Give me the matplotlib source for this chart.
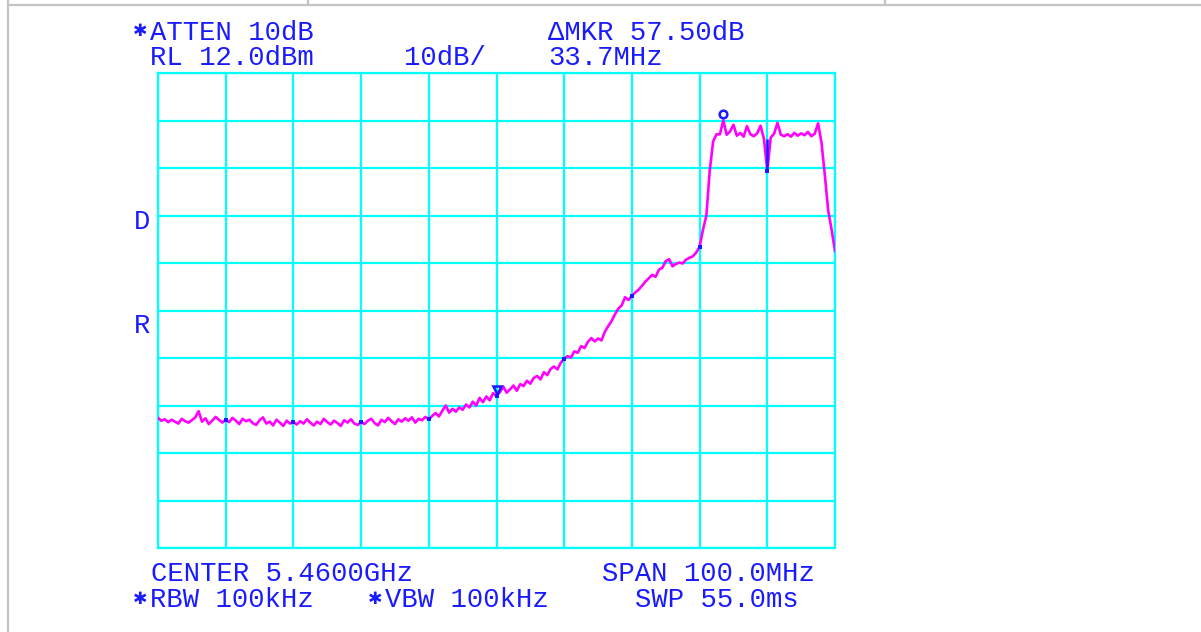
#!/usr/bin/env python
"""Spectrum analyzer screen dump: 5.46 GHz channel, 100 MHz span."""
import matplotlib
matplotlib.use("Agg")
import matplotlib.pyplot as plt
import numpy as np
from matplotlib.lines import Line2D
from matplotlib.transforms import offset_copy

# Instrument settings (MHz / dBm)
CENTER_MHZ = 5460.0
SPAN_MHZ = 100.0
REF_LEVEL = 12.0
DB_PER_DIV = 10.0

# Trace at 0.5 MHz steps from 5410 MHz
freq_mhz = np.linspace(CENTER_MHZ - SPAN_MHZ / 2, CENTER_MHZ + SPAN_MHZ / 2, 201)
level_dbm = [
    -60.6, -61.2, -60.9, -61.5, -61.0, -61.4, -61.8, -60.8, -61.3, -61.6,
    -61.1, -60.5, -59.2, -61.4, -60.7, -61.9, -61.2, -60.4, -61.0, -61.6,
    -61.0, -61.5, -60.6, -61.2, -61.9, -60.8, -61.3, -61.0, -61.7, -62.1,
    -61.1, -60.5, -61.8, -61.4, -62.2, -61.0, -61.6, -62.3, -61.2, -61.8,
    -61.5, -62.0, -61.3, -61.8, -60.9, -61.6, -62.2, -61.4, -61.9, -60.8,
    -61.5, -62.0, -61.2, -61.7, -62.3, -61.1, -61.6, -60.9, -61.8, -62.1,
    -61.5, -61.9, -61.2, -60.8, -61.7, -62.2, -61.0, -61.5, -60.6, -61.3,
    -61.9, -60.9, -61.4, -60.7, -61.2, -60.5, -61.6, -60.8, -61.1, -60.4,
    -60.9, -60.2, -59.6, -60.3, -59.1, -58.0, -59.5, -58.7, -59.3, -58.4,
    -58.9, -57.8, -58.4, -57.2, -58.0, -56.4, -57.3, -56.1, -56.9, -55.4,
    -56.0, -55.2, -54.0, -55.3, -54.6, -53.8, -54.9, -53.5, -53.9, -52.8,
    -53.4, -52.2, -51.8, -52.5, -51.0, -51.6, -50.3, -49.8, -50.4, -49.0,
    -48.2, -47.6, -47.9, -46.6, -46.9, -45.5, -45.9, -44.6, -43.8, -44.5,
    -43.9, -44.3, -42.5, -41.3, -40.2, -38.8, -37.6, -36.9, -35.2, -35.8,
    -34.9, -34.2, -33.6, -32.8, -31.9, -31.2, -30.5, -30.9, -29.4, -29.0,
    -27.6, -27.2, -28.7, -28.2, -27.9, -28.1, -27.3, -26.9, -26.6, -25.8,
    -24.6, -21.0, -18.0, -8.5, -2.4, -0.9, -0.9, 2.0, -1.0, -0.3,
    1.1, -1.2, -0.6, -1.4, 0.8, -0.9, -1.3, -0.7, 0.9, -1.8,
    -8.6, -1.6, -0.8, 1.5, -1.0, -1.3, -0.9, -1.4, -0.6, -1.2,
    -0.7, -1.1, -0.4, -1.3, -0.8, 1.4, -2.6, -9.5, -17.0, -21.0,
    -25.5,
]

# Delta marker reference point (MHz) and the notch that shows up in blue
delta_ref_mhz = 5460.0
notch_mhz = 5500.0

# Screen annotations: (text, x px, y px)
header_text = [
    ("\u2731ATTEN 10dB", 133, 33),
    ("RL 12.0dBm", 150, 58),
    ("10dB/", 404, 58),
    ("\u0394MKR 57.50dB", 548, 33),
    ("33.7MHz", 548, 58),
    ("D", 134, 222),
    ("R", 134, 326),
]
footer_text = [
    ("CENTER 5.4600GHz", 151, 574),
    ("SPAN 100.0MHz", 602, 574),
    ("\u2731RBW 100kHz", 133, 600),
    ("\u2731VBW 100kHz", 368, 600),
    ("SWP 55.0ms", 635, 600),
]

W, H = 1201, 632
GRID = "#00ffff"
TRACE = "#ff00ff"
INK = "#1a1aff"
FONT = ["Liberation Mono", "DejaVu Sans"]
FONT_SIZE = 19.6
CHAR_PX = 16.4  # character pitch of the screen font


def put_text(fig, s, x, y):
    # the star glyph comes from a wider fallback font, so place it on its own
    if s.startswith("\u2731"):
        fig.text(x / W, 1 - (y - 1) / H, s[0], ha="left", va="center", color=INK,
                 fontsize=FONT_SIZE * 0.64, family=FONT)
        s, x = s[1:], x + CHAR_PX + 1
    fig.text(x / W, 1 - y / H, s, ha="left", va="center", color=INK,
             fontsize=FONT_SIZE, family=FONT)


def main():
    fig = plt.figure(figsize=(W / 100, H / 100), dpi=100, facecolor="white")

    # page frame lines from the original screenshot
    frame = [((8, 8), (0, H)), ((8, W), (5, 5)), ((308, 308), (0, 5)), ((885, 885), (0, 5))]
    for xs, ys in frame:
        fig.add_artist(Line2D([x / W for x in xs], [1 - y / H for y in ys],
                              transform=fig.transFigure, color="#c4c4c4", lw=1.6))

    ax = fig.add_axes([158 / W, 1 - 548 / H, (835 - 158) / W, (548 - 73) / H])
    f0, f1 = CENTER_MHZ - SPAN_MHZ / 2, CENTER_MHZ + SPAN_MHZ / 2
    ax.set_xlim(f0, f1)
    ax.set_ylim(REF_LEVEL - 10 * DB_PER_DIV, REF_LEVEL)
    ax.set_xticks(np.linspace(f0, f1, 11))
    ax.set_yticks(np.linspace(REF_LEVEL - 10 * DB_PER_DIV, REF_LEVEL, 11))
    ax.tick_params(length=0, labelbottom=False, labelleft=False)
    ax.grid(color=GRID, lw=1.6)
    ax.set_axisbelow(True)
    for sp in ax.spines.values():
        sp.set_color(GRID)
        sp.set_linewidth(1.6)

    level = np.array(level_dbm)
    ax.plot(freq_mhz, level, color=TRACE, lw=1.9, zorder=3)

    # notch drawn in blue where it sits on the grid line
    i_n = int(np.argmin(np.abs(freq_mhz - notch_mhz)))
    ax.vlines(freq_mhz[i_n], level[i_n], level[i_n - 1], color=INK, lw=1.8, zorder=4)

    # blue where the trace crosses vertical grid lines
    for g in ax.get_xticks()[1:-1]:
        i = int(np.argmin(np.abs(freq_mhz - g)))
        ax.plot(freq_mhz[i], level[i], "s", color=INK, ms=3, mew=0, zorder=4)

    # peak marker (circle) and delta reference marker (triangle)
    i_pk = int(np.argmax(level))
    up = offset_copy(ax.transData, fig=fig, x=0, y=7, units="dots")
    ax.plot(freq_mhz[i_pk], level[i_pk], "o", mfc="none", mec=INK, mew=1.8,
            ms=5.5, transform=up, zorder=5, clip_on=False)
    i_ref = int(np.argmin(np.abs(freq_mhz - delta_ref_mhz)))
    up2 = offset_copy(ax.transData, fig=fig, x=0, y=6, units="dots")
    ax.plot(freq_mhz[i_ref], level[i_ref], "v", mfc="none", mec=INK, mew=1.8,
            ms=6, transform=up2, zorder=5)

    for s, x, y in header_text + footer_text:
        put_text(fig, s, x, y)

    fig.savefig("out.png", dpi=100, facecolor="white")
    plt.close(fig)


if __name__ == "__main__":
    main()
